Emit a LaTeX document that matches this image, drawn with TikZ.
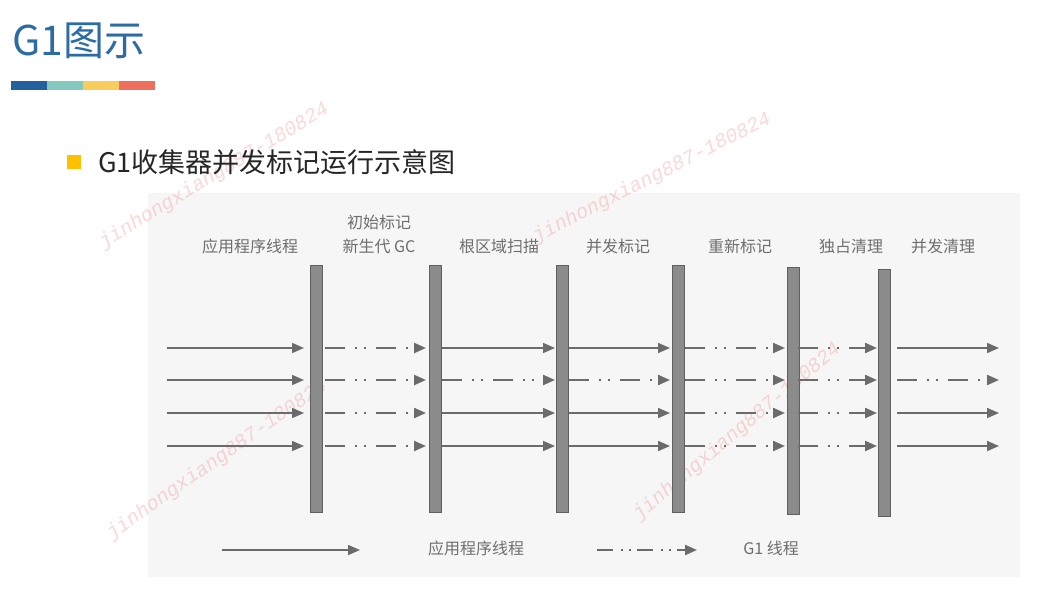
\documentclass[tikz,border=0pt]{standalone}
\usepackage{fontspec}
\newfontfamily\cjk{Noto Sans CJK SC}
\newfontfamily\wmfont{Liberation Mono}
\usetikzlibrary{arrows.meta}
\definecolor{titleblue}{HTML}{2D6CA2}
\definecolor{barblue}{HTML}{23609E}
\definecolor{barteal}{HTML}{86C7C0}
\definecolor{baryellow}{HTML}{F8CD5C}
\definecolor{barcoral}{HTML}{EE6F5C}
\definecolor{bulletyellow}{HTML}{FFC000}
\definecolor{headtext}{HTML}{262626}
\definecolor{scanbg}{HTML}{F6F6F6}
\definecolor{barfill}{HTML}{8B8B8B}
\definecolor{bardraw}{HTML}{5F5F5F}
\definecolor{arrowgray}{HTML}{6B6B6B}
\definecolor{labelgray}{HTML}{6E6E6E}
\definecolor{wmred}{HTML}{F08080}
\tikzset{
  phasebar/.style={draw=bardraw, fill=barfill, line width=0.8pt, minimum width=12pt, inner sep=0pt, anchor=north},
  appline/.style={draw=arrowgray, line width=1.6pt, -{Triangle[length=12pt,width=10pt]}},
  gcline/.style={draw=arrowgray, line width=2.2pt, dash pattern=on 20pt off 10pt on 2pt off 7pt on 2pt off 10pt, -{Triangle[length=12pt,width=10pt]}},
  phaselabel/.style={text=labelgray, inner sep=0pt, font=\cjk\fontsize{16}{18}\selectfont},
  watermark/.style={text=wmred, opacity=0.3, inner sep=0pt, font=\wmfont\itshape\fontsize{20}{20}\selectfont}
}
\begin{document}
\begin{tikzpicture}[x=1pt,y=-1pt]
\useasboundingbox (0,0) rectangle (1039,590);
\fill[white] (0,0) rectangle (1039,590);
% scanned figure background
\fill[scanbg] (148,193) rectangle (1020,577);
% watermarks (behind everything else)
\node[watermark, rotate=31] (w1) at (214,176) {jinhongxiang887-180824};
\node[watermark, rotate=27] (w2) at (652,178) {jinhongxiang887-180824};
\node[watermark, rotate=35] (w3) at (217,460) {jinhongxiang887-180824};
\node[watermark, rotate=40] (w4) at (737,432) {jinhongxiang887-180824};
% title
\node[anchor=base west, inner sep=0pt, text=titleblue, font=\cjk\fontsize{41}{41}\selectfont] (title) at (12,55) {G1图示};
\fill[barblue] (11,81) rectangle (47,90);
\fill[barteal] (47,81) rectangle (83,90);
\fill[baryellow] (83,81) rectangle (119,90);
\fill[barcoral] (119,81) rectangle (155,90);
% heading
\node[fill=bulletyellow, minimum size=14pt, inner sep=0pt] (bullet) at (73.5,161.5) {};
\node[anchor=base west, inner sep=0pt, text=headtext, font=\cjk\fontsize{27}{27}\selectfont] (heading) at (98,172) {G1收集器并发标记运行示意图};
% phase labels
\node[phaselabel] (l0) at (250,246) {应用程序线程};
\node[phaselabel] (l1a) at (379,222) {初始标记};
\node[phaselabel] (l1b) at (379,246) {新生代 GC};
\node[phaselabel] (l2) at (499,246) {根区域扫描};
\node[phaselabel] (l3) at (618,246) {并发标记};
\node[phaselabel] (l4) at (740,246) {重新标记};
\node[phaselabel] (l5) at (851,246) {独占清理};
\node[phaselabel] (l6) at (943,246) {并发清理};
% bars
\node[phasebar, minimum height=247pt] (b1) at (316,265) {};
\node[phasebar, minimum height=247pt] (b2) at (435,265) {};
\node[phasebar, minimum height=247pt] (b3) at (562,265) {};
\node[phasebar, minimum height=247pt] (b4) at (678,265) {};
\node[phasebar, minimum height=247pt] (b5) at (793,267) {};
\node[phasebar, minimum height=247pt] (b6) at (884,269) {};
% arrows
\foreach \s/\xa/\xb/\ta/\tb/\tc/\td in {
  0/167/304/appline/appline/appline/appline,
  1/325/426/gcline/gcline/gcline/gcline,
  2/442/555/appline/gcline/appline/appline,
  3/569/670/appline/gcline/appline/appline,
  4/685/785/gcline/gcline/gcline/gcline,
  5/798/877/gcline/gcline/gcline/gcline,
  6/897/999/appline/gcline/appline/appline}{
  \coordinate (s\s r1a) at (\xa,348); \coordinate (s\s r1b) at (\xb,348);
  \coordinate (s\s r2a) at (\xa,380); \coordinate (s\s r2b) at (\xb,380);
  \coordinate (s\s r3a) at (\xa,413); \coordinate (s\s r3b) at (\xb,413);
  \coordinate (s\s r4a) at (\xa,446); \coordinate (s\s r4b) at (\xb,446);
  \draw[\ta] (s\s r1a) -- (s\s r1b);
  \draw[\tb] (s\s r2a) -- (s\s r2b);
  \draw[\tc] (s\s r3a) -- (s\s r3b);
  \draw[\td] (s\s r4a) -- (s\s r4b);
}
% legend
\coordinate (la1) at (222,550); \coordinate (la2) at (360,550);
\draw[appline] (la1) -- (la2);
\node[phaselabel] (lt1) at (476,548) {应用程序线程};
\coordinate (lg1) at (597,550); \coordinate (lg2) at (697,550);
\draw[gcline, dash pattern=on 16pt off 8pt on 2pt off 6pt on 2pt off 6pt] (lg1) -- (lg2);
\node[phaselabel] (lt2) at (771,548) {G1 线程};
\end{tikzpicture}
\end{document}
